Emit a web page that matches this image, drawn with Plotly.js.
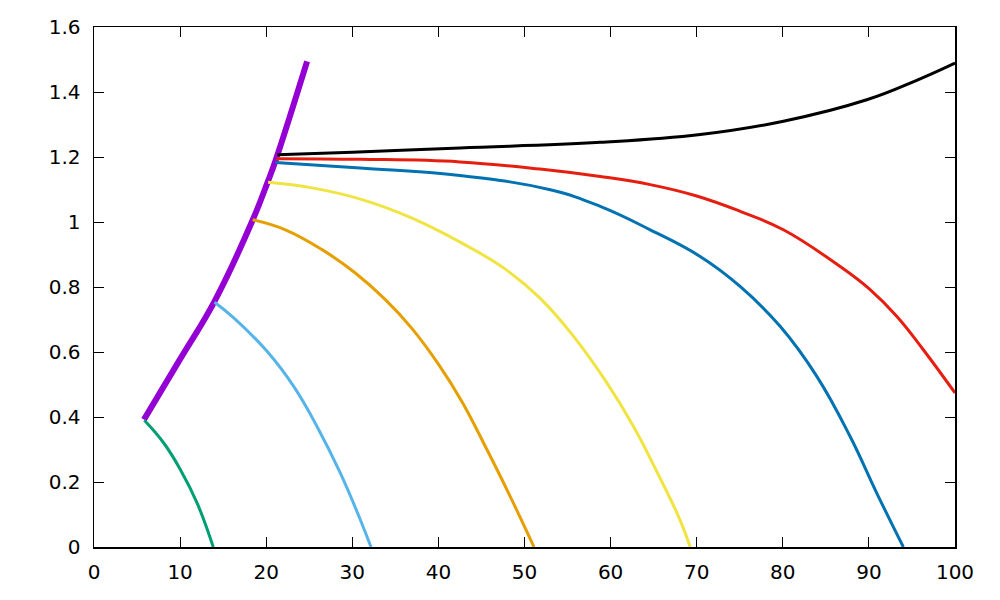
<!DOCTYPE html>
<html>
<head>
<meta charset="utf-8">
<script src="https://cdn.plot.ly/plotly-3.0.1.min.js"></script>
<style>
  html, body { margin: 0; padding: 0; background: #fff; }
  #chart { width: 1000px; height: 600px; }
</style>
</head>
<body>
<div id="chart"></div>
<script>
// values
const purpleX = [5.8, 10.0, 14.0, 18.43, 20.2, 21.1, 24.75]
const purpleY = [0.392, 0.578, 0.756, 1.006, 1.125, 1.19, 1.494]

const greenX = [5.85, 8.1, 10.04, 11.98, 13.85]
const greenY = [0.39, 0.32, 0.238, 0.135, 0]

const skyX = [14.0, 16.23, 20.1, 23.19, 25.9, 28.6, 30.93, 32.17]
const skyY = [0.753, 0.705, 0.602, 0.494, 0.371, 0.228, 0.084, 0]

const orangeX = [18.43, 22.23, 26.49, 30.35, 33.84, 36.94, 40.02, 42.74, 45.44, 48.15, 51.1]
const orangeY = [1.007, 0.976, 0.915, 0.843, 0.761, 0.672, 0.562, 0.447, 0.31, 0.166, 0]

const yellowX = [20.22, 25.33, 31.13, 36.94, 42.74, 47.77, 51.83, 55.7, 59.57, 62.66, 65.37, 68.08, 69.24]
const yellowY = [1.122, 1.105, 1.069, 1.012, 0.935, 0.855, 0.765, 0.648, 0.505, 0.371, 0.232, 0.082, 0]

const blueX = [21.07, 30.9, 42.5, 52.99, 58.8, 64.6, 70.4, 75.04, 79.69, 83.95, 87.82, 90.91, 94.0]
const blueY = [1.183, 1.166, 1.143, 1.099, 1.048, 0.976, 0.894, 0.802, 0.679, 0.525, 0.34, 0.166, 0]

const redX = [21.18, 30.9, 42.5, 51.8, 58.8, 64.6, 70.0, 75.04, 80.07, 86.66, 90.14, 93.23, 96.32, 100]
const redY = [1.195, 1.193, 1.185, 1.163, 1.14, 1.115, 1.08, 1.033, 0.976, 0.863, 0.792, 0.71, 0.607, 0.474]

const blackX = [21.3, 30.0, 42.5, 58.8, 70.4, 80.07, 89.75, 95.55, 100]
const blackY = [1.207, 1.215, 1.228, 1.245, 1.269, 1.31, 1.376, 1.436, 1.489]

function curve (x, y, color, width) {
  return {
    x: x,
    y: y,
    type: 'scatter',
    mode: 'lines',
    line: { color: color, width: width, shape: 'spline', smoothing: 1.2 },
    hoverinfo: 'x+y'
  }
}

var data = [
  curve(purpleX, purpleY, '#9400d3', 6),
  curve(greenX, greenY, '#009e73', 3),
  curve(skyX, skyY, '#56b4e9', 3),
  curve(orangeX, orangeY, '#e69f00', 3),
  curve(yellowX, yellowY, '#f0e442', 3),
  curve(blueX, blueY, '#0072b2', 3),
  curve(redX, redY, '#e51e10', 3),
  curve(blackX, blackY, '#000000', 3)
]

var axisStyle = {
  showgrid: false,
  zeroline: false,
  showline: true,
  linecolor: '#000',
  linewidth: 1.5,
  mirror: 'ticks',
  ticks: 'inside',
  ticklen: 10,
  tickwidth: 1,
  tickcolor: '#000',
  tickfont: { family: 'DejaVu Sans', size: 20, color: '#000' }
}

var layout = {
  width: 1000,
  height: 600,
  margin: { l: 94, r: 45, t: 27, b: 53 },
  showlegend: false,
  paper_bgcolor: '#fff',
  plot_bgcolor: '#fff',
  xaxis: Object.assign({}, axisStyle, {
    range: [0, 100],
    dtick: 10,
    tick0: 0,
    ticklabelstandoff: 6
  }),
  yaxis: Object.assign({}, axisStyle, {
    range: [0, 1.6],
    dtick: 0.2,
    tick0: 0,
    ticklabelstandoff: 8
  })
}

Plotly.newPlot('chart', data, layout, { staticPlot: true })
</script>
</body>
</html>
